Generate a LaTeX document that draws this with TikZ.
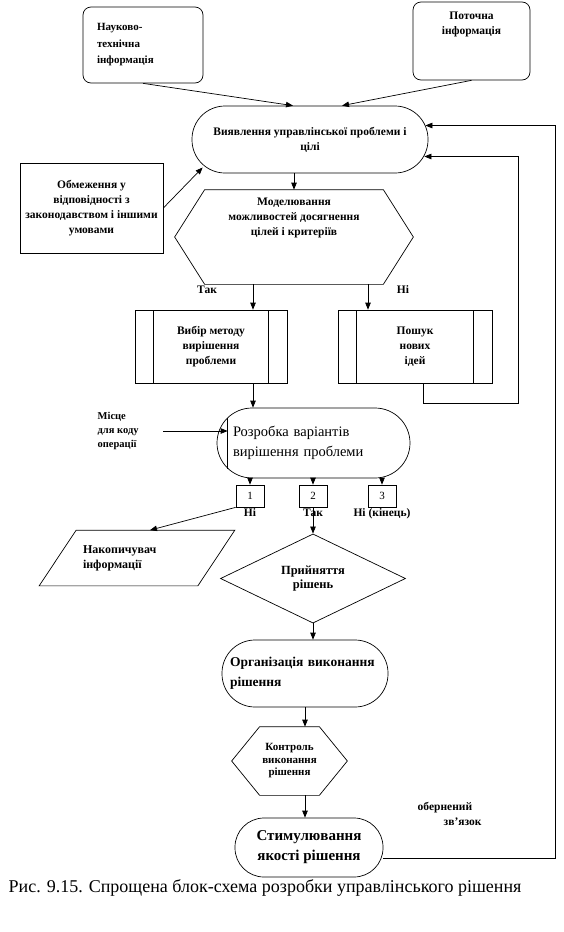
\documentclass[tikz,border=0pt]{standalone}
\usepackage{fontspec}
\setmainfont{Liberation Serif}
\usetikzlibrary{shapes.geometric,arrows.meta}

\tikzset{
  txt/.style={font=\fontsize{11.5}{15}\selectfont\bfseries, align=center},
  bigtxt/.style={font=\fontsize{14.5}{20}\selectfont},
  bigbold/.style={font=\fontsize{#1}{20}\selectfont\bfseries},
  term/.style={draw, rectangle, rounded corners=#1, inner sep=0pt},
  procbox/.style={draw, rectangle, inner sep=0pt},
  predef/.style={procbox, path picture={
      \draw ([xshift=18pt]path picture bounding box.north west) -- ([xshift=18pt]path picture bounding box.south west);
      \draw ([xshift=-19pt]path picture bounding box.north east) -- ([xshift=-19pt]path picture bounding box.south east);}},
  numbox/.style={draw, minimum width=28pt, minimum height=22pt, inner sep=0pt, font=\fontsize{11}{13}\selectfont},
}

\begin{document}
\begin{tikzpicture}[x=1pt, y=-1pt, line width=0.7pt, >={Triangle[length=7pt,width=5.5pt]}]
\useasboundingbox (0,0) rectangle (564,932);

% inputs
\node[draw, rounded corners=8pt, minimum width=120pt, minimum height=76pt, align=left, text width=92pt, font=\fontsize{11}{16.5}\selectfont\bfseries] (nti) at (143,45) {Науково-\\технічна\\інформація};
\node[draw, rounded corners=8pt, minimum width=117pt, minimum height=78pt, label={[txt, anchor=north, yshift=-7pt]north:{Поточна\\інформація}}] (pot) at (471.5,41) {};
\node[term=33pt, minimum width=236pt, minimum height=67pt, txt] (viyav) at (310,139.5) {Виявлення управлінської проблеми і\\цілі};
\node[procbox, minimum width=143pt, minimum height=90pt, txt] (obm) at (91.5,208) {Обмеження у\\відповідності з\\законодавством і іншими\\умовами};

% modelling
\node[minimum width=238pt, minimum height=94pt, inner sep=0pt, label={[txt, yshift=19pt]center:{Моделювання\\можливостей досягнення\\цілей і критеріїв}}] (model) at (294,237) {};
\draw (model.west) -- ([xshift=30pt]model.north west) -- ([xshift=-30pt]model.north east) -- (model.east) -- ([xshift=-30pt]model.south east) -- ([xshift=30pt]model.south west) -- cycle;
\node[txt] (tak) at (207,290) {Так};
\node[txt] (ni) at (403,290) {Ні};
\node[predef, minimum width=152pt, minimum height=73pt, txt] (vybir) at (211,346.5) {Вибір методу\\вирішення\\проблеми};
\node[predef, minimum width=154pt, minimum height=73pt, txt] (poshuk) at (415,346.5) {Пошук\\нових\\ідей};

% variants
\node[term=35pt, minimum width=193pt, minimum height=70pt, bigtxt, align=left, text width=161pt] (rozr) at (313.5,443) {Розробка варіантів\\вирішення проблеми};
\draw ([xshift=11pt,yshift=25.5pt]rozr.west) -- ([xshift=11pt,yshift=-25.5pt]rozr.west);
\coordinate (rozrin) at ([xshift=11pt]rozr.west);
\node[anchor=west, align=left, font=\fontsize{10.5}{14}\selectfont\bfseries] (mistse) at (94,431) {Місце\\для коду\\операції};
\node[numbox, label={[txt, inner sep=1pt]below:Ні}] (b1) at (250,496) {1};
\node[numbox, label={[txt, inner sep=1pt]below:Так}] (b2) at (313,496) {2};
\node[numbox, label={[txt, inner sep=1pt]below:Ні (кінець)}] (b3) at (382,496) {3};

% decision
\node[minimum width=195pt, minimum height=55pt, inner sep=0pt, txt, font=\fontsize{12}{15}\selectfont\bfseries, align=left, text width=108pt] (nakop) at (137,558) {Накопичувач\\інформації};
\draw ([xshift=37pt]nakop.north west) -- (nakop.north east) -- ([xshift=-37pt]nakop.south east) -- (nakop.south west) -- cycle;
\node[draw, diamond, minimum width=185pt, minimum height=87pt, inner sep=0pt, txt, font=\fontsize{12.5}{14}\selectfont\bfseries] (prin) at (313,578.5) {Прийняття\\рішень};
\node[term=33pt, minimum width=166pt, minimum height=67pt, bigbold=13.5, align=left, text width=150pt] (org) at (305,673.5) {Організація виконання\\рішення};
\node[minimum width=115pt, minimum height=68pt, inner sep=0pt, font=\fontsize{11}{12.5}\selectfont\bfseries, align=center] (kontr) at (289.5,761) {Контроль\\виконання\\рішення};
\draw (kontr.west) -- ([xshift=28pt]kontr.north west) -- ([xshift=-28pt]kontr.north east) -- (kontr.east) -- ([xshift=-28pt]kontr.south east) -- ([xshift=28pt]kontr.south west) -- cycle;
\node[term=29pt, minimum width=148pt, minimum height=59pt, bigbold=15, align=center] (stim) at (309,847.5) {Стимулювання\\якості рішення};
\node[anchor=west, txt, align=left] (obern) at (414,814) {обернений\\\hspace*{26pt}зв’язок};

% connectors
\draw[->] (nti.south) -- ([xshift=-17pt]viyav.north);
\draw[->] (pot.south) -- ([xshift=32pt]viyav.north);
\draw[->] (obm.east) -- ([xshift=11pt,yshift=-28pt]viyav.west);
\draw[->] (viyav.south -| model.north) -- (model.north);
\draw[->] ([xshift=-41pt]model.south) -- ([xshift=-41pt]model.south |- vybir.north);
\draw[->] ([xshift=74pt]model.south) -- ([xshift=74pt]model.south |- poshuk.north);
\draw[->] ([xshift=42pt]vybir.south) -- ([xshift=42pt]vybir.south |- rozr.north);
\draw[->] (mistse.east) ++(21,0) -- (mistse.east -| rozrin);
\draw[->] (rozr.south -| b1.north) -- (b1.north);
\draw[->] (rozr.south -| b2.north) -- (b2.north);
\draw[->] (rozr.south -| b3.north) -- (b3.north);
\draw[->] (b1.south west) -- ([xshift=13pt]nakop.north);
\draw[->] (b2.south) -- (prin.north);
\draw[->] (prin.south) -- (prin.south |- org.north);
\draw[->] (org.south) -- (org.south |- kontr.north);
\draw[->] (org.south |- kontr.south) -- (org.south |- stim.north);

% feedback
\coordinate (loopc) at (518,403);
\draw[->, shorten >=-4pt] ([xshift=8pt]poshuk.south) |- (loopc) |- ([yshift=-17pt]viyav.east);
\draw[->, shorten >=-3pt] ([yshift=-11pt]stim.east) -- ++(172,0) |- ([yshift=14pt]viyav.east);

\node[anchor=west, font=\fontsize{18}{20}\selectfont] (capt) at (5,888) {Рис. 9.15. Спрощена блок-схема розробки управлінського рішення};
\end{tikzpicture}
\end{document}
